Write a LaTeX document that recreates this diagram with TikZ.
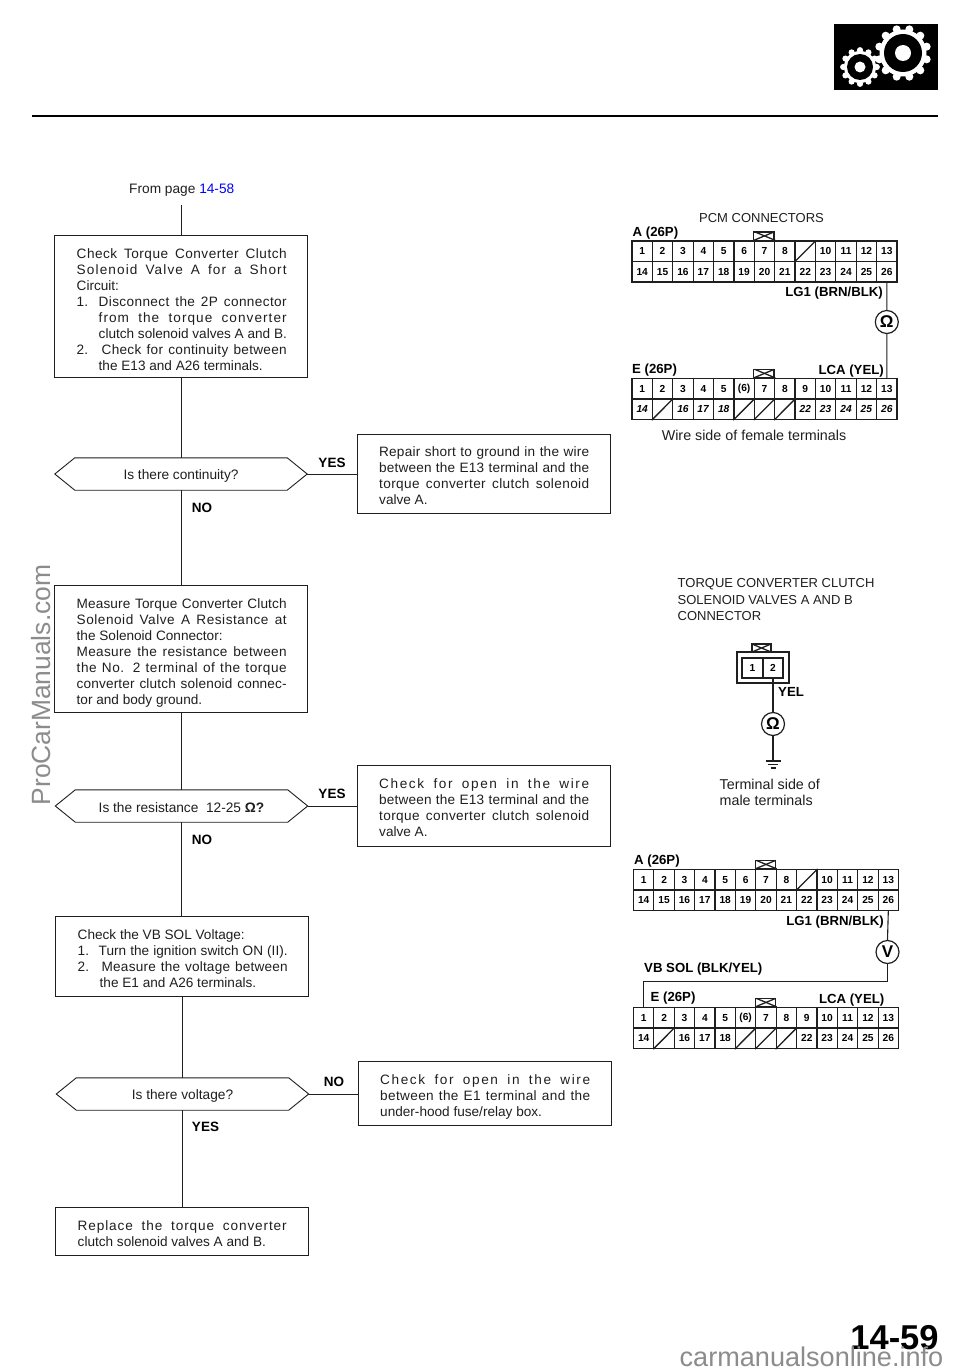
\documentclass[tikz,border=0pt]{standalone}
\usepackage{fontspec}
\setmainfont{Liberation Sans}
\usetikzlibrary{calc}
\definecolor{ink}{gray}{0.12}
\definecolor{mark}{gray}{0.55}
\newlength\lsw
\newcount\chcnt
\def\countloop#1{\ifx#1\relax\else\advance\chcnt by 1 \expandafter\countloop\fi}
% fit a line to a width: most of the surplus goes between the letters, the rest to the spaces
\newcommand\LS[2]{\settowidth\lsw{#2}\chcnt=0 \countloop#2\relax
  \pgfmathsetmacro\lsv{max(0,(#1-\lsw/1pt)/\chcnt/13.6*100*0.65)}%
  \hbox to #1pt{\addfontfeature{LetterSpace=\lsv}#2}}
\newcommand\F[1]{\LS{210}{#1}}
\newcommand\Ind{\hspace*{22pt}}
\newcommand\Num[3]{\hbox to 210pt{\hbox to #1pt{#2\hfil}\LS{\the\numexpr210-#1\relax}{#3}}}
\newcommand\bi[1]{\textit{#1}}
\tikzset{
  flowbox/.style={draw=ink,line width=0.9pt,inner sep=0pt},
  boxtext/.style={text=ink,font=\fontsize{13.6}{16}\selectfont,align=left,inner sep=0pt,anchor=north west},
  plain/.style={text=ink,font=\fontsize{13.7}{16}\selectfont,inner sep=0pt},
  capsnote/.style={font=\fontsize{13}{16.5}\selectfont},
  widenote/.style={font=\fontsize{14.3}{16}\selectfont},
  flowline/.style={draw=ink,line width=0.9pt},
  answer/.style={text=black,font=\fontsize{13.5}{16}\selectfont\bfseries,inner sep=0pt},
  cell/.style={draw=ink,line width=1.2pt,inner sep=0pt,font=\fontsize{10.2}{11}\selectfont\bfseries},
  conntitle/.style={text=black,font=\fontsize{13.2}{15}\selectfont\bfseries,inner sep=0pt,anchor=west},
  meter/.style={circle,draw=ink,line width=1.2pt,inner sep=0pt,minimum size=23pt,font=\fontsize{17}{17}\selectfont\bfseries},
  wire/.style={draw=ink,line width=1.1pt},
  tabmark/.style={draw=ink,line width=1.3pt}
}
\def\xcell{x}
% name, left, top, width, first row, second row
\newcommand\connector[6]{%
  \foreach \lab [count=\i] in {#5}{%
    \node[cell,minimum width=#4/13*1pt,minimum height=20.5pt] (#1t\i) at ({#2+(\i-0.5)*#4/13},{#3+10.25}) {\ifx\lab\xcell\else\lab\fi};
    \ifx\lab\xcell\draw[tabmark] (#1t\i.south west) -- (#1t\i.north east);\fi
  }
  \foreach \lab [count=\i] in {#6}{%
    \node[cell,minimum width=#4/13*1pt,minimum height=20.5pt] (#1b\i) at ({#2+(\i-0.5)*#4/13},{#3+30.75}) {\ifx\lab\xcell\else\lab\fi};
    \ifx\lab\xcell\draw[tabmark] (#1b\i.south west) -- (#1b\i.north east);\fi
  }
  \draw[tabmark] (#1t7.north west) rectangle ++(#4/13,-8.5);
  \draw[tabmark] (#1t7.north west) -- ++(#4/13,-8.5);
  \draw[tabmark] (#1t7.north east) -- ++(-#4/13,-8.5);
}
% name, centre, half width of flat part, text
\newcommand\decision[4]{%
  \node[plain,minimum width=#3*2pt,minimum height=32pt] (#1) at (#2) {};
  \node[plain] (#1x) at ($(#1)+(0,2)$) {#4};
  \coordinate (#1R) at ($(#1.east)+(20,0)$);
  \coordinate (#1L) at ($(#1.west)+(-20,0)$);
  \draw[flowline] (#1.north west) -- (#1.north east) -- (#1R) -- (#1.south east) -- (#1.south west) -- (#1L) -- cycle;
}
\begin{document}
\begin{tikzpicture}[x=1pt,y=-1pt]
\useasboundingbox (0,0) rectangle (960,1370);
\fill[white] (0,0) rectangle (960,1370);

% gear icon
\fill[black] (834,24) rectangle (938,90);
\foreach \a in {0,30,...,330}{
  \fill[white,shift={(903,53)}] (\a+15:24.5) circle (4);
  \fill[white,shift={(860,67)}] (\a:16.8) circle (3.1);
}
\fill[white] (903,53) circle (23.5);
\fill[white] (860,67) circle (16);
\fill[black] (903,53) circle (19);
\fill[black] (860,67) circle (13);
\fill[white] (903,53) circle (8);
\fill[white] (860,67) circle (5.5);
\draw[black,line width=2pt] (32,116) -- (938,116);

% flow column
\node[plain,anchor=west] (from) at (129,190.5) {From page \textcolor{blue}{14-58}};
\coordinate (start) at (181,205);

\node[flowbox,minimum width=253pt,minimum height=142pt] (b1) at (180.5,306) {};
\node[boxtext] (t1) at (76.5,248) {\F{Check Torque Converter Clutch}\\\F{Solenoid Valve A for a Short}\\Circuit:\\\Num{22}{1.}{Disconnect the 2P connector}\\\Ind\LS{188}{from the torque converter}\\\Ind clutch solenoid valves A and B.\\\Num{25}{2.}{Check for continuity between}\\\Ind the E13 and A26 terminals.};

\decision{d1}{181,474}{106}{Is there continuity?}
\node[flowbox,minimum width=253pt,minimum height=79pt] (r1) at (483.5,473.5) {};
\node[boxtext] (rt1) at (379,446) {\F{Repair short to ground in the wire}\\\F{between the E13 terminal and the}\\\F{torque converter clutch solenoid}\\valve A.};
\node[answer] (y1) at (332,462.5) {YES};
\node[answer] (n1) at (202,508) {NO};

\node[flowbox,minimum width=253pt,minimum height=127pt] (b2) at (180.5,648.5) {};
\node[boxtext] (t2) at (76.5,598) {\F{Measure Torque Converter Clutch}\\\F{Solenoid Valve A Resistance at}\\the Solenoid Connector:\\\F{Measure the resistance between}\\\F{the No. 2 terminal of the torque}\\\F{converter clutch solenoid connec-}\\tor and body ground.};

\decision{d2}{181.5,806}{106}{Is the resistance \ 12-25 \textbf{Ω?}}
\node[flowbox,minimum width=253pt,minimum height=81pt] (r2) at (483.5,805.5) {};
\node[boxtext] (rt2) at (379,778) {\F{Check for open in the wire}\\\F{between the E13 terminal and the}\\\F{torque converter clutch solenoid}\\valve A.};
\node[answer] (y2) at (332,794) {YES};
\node[answer] (n2) at (202,840) {NO};

\node[flowbox,minimum width=253pt,minimum height=80pt] (b3) at (181.5,956) {};
\node[boxtext] (t3) at (77.5,929) {Check the VB SOL Voltage:\\\Num{21}{1.}{Turn the ignition switch ON (II).}\\\Num{24}{2.}{Measure the voltage between}\\\Ind the E1 and A26 terminals.};

\decision{d3}{182.5,1094}{106}{Is there voltage?}
\node[flowbox,minimum width=253pt,minimum height=64pt] (r3) at (484.5,1093) {};
\node[boxtext] (rt3) at (380,1074) {\F{Check for open in the wire}\\\F{between the E1 terminal and the}\\under-hood fuse/relay box.};
\node[answer] (n3) at (334,1082) {NO};
\node[answer] (y3) at (205.5,1127) {YES};

\node[flowbox,minimum width=253pt,minimum height=48pt] (b4) at (181.5,1231) {};
\node[boxtext] (t4) at (77.5,1220) {\LS{209}{Replace the torque converter}\\clutch solenoid valves A and B.};

\draw[flowline] (start) -- (start |- b1.north);
\draw[flowline] (b1.south -| start) -- (d1.north -| start);
\draw[flowline] (d1.south -| start) -- (b2.north -| start);
\draw[flowline] (b2.south -| start) -- (d2.north -| start);
\draw[flowline] (d2.south -| start) -- (b3.north -| start);
\draw[flowline] (b3.south -| d3) -- (d3.north);
\draw[flowline] (d3.south) -- (b4.north -| d3);
\draw[flowline] (d1R) -- (d1R -| r1.west);
\draw[flowline] (d2R) -- (d2R -| r2.west);
\draw[flowline] (d3R) -- (d3R -| r3.west);

% PCM connectors, upper group
\node[plain,capsnote] (pcm) at (761.5,218.5) {PCM CONNECTORS};
\node[conntitle] (aT1) at (632.5,233) {A (26P)};
\connector{a}{632}{241}{265}{1,2,3,4,5,6,7,8,x,10,11,12,13}{14,15,16,17,18,19,20,21,22,23,24,25,26}
\node[conntitle,anchor=east] (lg1) at (883,293.5) {LG1 (BRN/BLK)};
\node[meter] (ohm1) at (886.8,322) {Ω};
\node[conntitle] (eT1) at (632,370.5) {E (26P)};
\node[conntitle,anchor=east] (lca1) at (884,371) {LCA (YEL)};
\connector{e}{632}{378.5}{265}{1,2,3,4,5,{(6)},7,8,9,10,11,12,13}{\bi{14},x,\bi{16},\bi{17},\bi{18},x,x,x,\bi{22},\bi{23},\bi{24},\bi{25},\bi{26}}
\draw[wire] (ab13.south) -- (ohm1.north);
\draw[wire] (ohm1.south) -- (et13.north);
\node[plain,widenote] (wside) at (754,435) {Wire side of female terminals};

% solenoid connector
\node[boxtext,capsnote] (tcc) at (677.5,578.5) {TORQUE CONVERTER CLUTCH\\SOLENOID VALVES A AND B\\CONNECTOR};
\draw[tabmark] (737,652) rectangle (789,683);
\node[cell,minimum width=21pt,minimum height=20pt] (s1) at (752.5,668) {1};
\node[cell,minimum width=20pt,minimum height=20pt] (s2) at (773,668) {2};
\draw[tabmark] (752,644) rectangle (771,652);
\draw[tabmark] (752,644) -- (771,652);
\draw[tabmark] (771,644) -- (752,652);
\node[conntitle] (yel) at (778,691.5) {YEL};
\node[meter] (ohm2) at (773,724) {Ω};
\coordinate (gnd) at (773,761);
\draw[wire] (s2.south) -- (ohm2.north);
\draw[wire] (ohm2.south) -- (gnd);
\draw[wire] (765.5,761) -- (780.5,761);
\draw[wire] (768,764.5) -- (778,764.5);
\draw[wire] (770.5,768) -- (775.5,768);
\node[boxtext,widenote] (tside) at (719.5,778.5) {Terminal side of\\male terminals};

% PCM connectors, lower group
\node[conntitle] (aT2) at (634,861.5) {A (26P)};
\connector{c}{633.5}{869.5}{265}{1,2,3,4,5,6,7,8,x,10,11,12,13}{14,15,16,17,18,19,20,21,22,23,24,25,26}
\node[conntitle,anchor=east] (lg2) at (884,922.5) {LG1 (BRN/BLK)};
\node[meter] (volt) at (887.5,952) {V};
\node[conntitle] (vb) at (644,969.5) {VB SOL (BLK/YEL)};
\node[conntitle] (eT2) at (650.5,998) {E (26P)};
\node[conntitle,anchor=east] (lca2) at (884.5,1000) {LCA (YEL)};
\connector{f}{633.5}{1007.5}{265}{1,2,3,4,5,{(6)},7,8,9,10,11,12,13}{14,x,16,17,18,x,x,x,22,23,24,25,26}
\draw[wire] (cb13.south) -- (volt.north);
\draw[wire] (volt.south) -- ++(0,17) -| (ft1.north);

% page number and marks
\node[text=black,font=\fontsize{34.5}{36}\selectfont\bfseries,inner sep=0pt] (page) at (894.5,1338) {14-59};
\node[text=mark,font=\fontsize{27.1}{28}\selectfont,inner sep=0pt] (site2) at (811.5,1357) {carmanualsonline.info};
\node[text=mark,font=\fontsize{26.4}{28}\selectfont,inner sep=0pt,rotate=90] (site1) at (41,685) {ProCarManuals.com};
\end{tikzpicture}
\end{document}
